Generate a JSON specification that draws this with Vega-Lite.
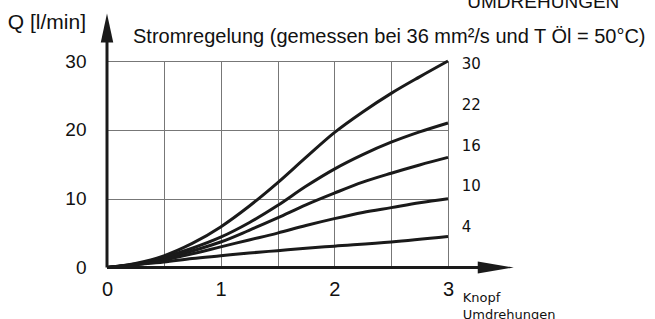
{
  "$schema": "https://vega.github.io/schema/vega-lite/v6.json",
  "width": 341,
  "height": 206.5,
  "autosize": {"type": "none"},
  "padding": {"left": 107, "top": 61, "right": 207, "bottom": 51.5},
  "background": "white",
  "config": {"view": {"stroke": null}},
  "datasets": {
    "curves": [
      {"x":0,"q":0,"n":"30"},{"x":0.25,"q":0.6,"n":"30"},{"x":0.5,"q":1.7,"n":"30"},{"x":0.75,"q":3.5,"n":"30"},{"x":1,"q":5.9,"n":"30"},{"x":1.25,"q":8.9,"n":"30"},{"x":1.5,"q":12.3,"n":"30"},{"x":1.75,"q":16.0,"n":"30"},{"x":2,"q":19.6,"n":"30"},{"x":2.25,"q":22.6,"n":"30"},{"x":2.5,"q":25.3,"n":"30"},{"x":2.75,"q":27.7,"n":"30"},{"x":3,"q":30,"n":"30"},
      {"x":0,"q":0,"n":"22"},{"x":0.25,"q":0.5,"n":"22"},{"x":0.5,"q":1.5,"n":"22"},{"x":0.75,"q":2.8,"n":"22"},{"x":1,"q":4.4,"n":"22"},{"x":1.25,"q":6.5,"n":"22"},{"x":1.5,"q":9.0,"n":"22"},{"x":1.75,"q":11.8,"n":"22"},{"x":2,"q":14.3,"n":"22"},{"x":2.25,"q":16.4,"n":"22"},{"x":2.5,"q":18.2,"n":"22"},{"x":2.75,"q":19.7,"n":"22"},{"x":3,"q":21,"n":"22"},
      {"x":0,"q":0,"n":"16"},{"x":0.25,"q":0.45,"n":"16"},{"x":0.5,"q":1.3,"n":"16"},{"x":0.75,"q":2.4,"n":"16"},{"x":1,"q":3.7,"n":"16"},{"x":1.25,"q":5.4,"n":"16"},{"x":1.5,"q":7.2,"n":"16"},{"x":1.75,"q":9.1,"n":"16"},{"x":2,"q":10.8,"n":"16"},{"x":2.25,"q":12.4,"n":"16"},{"x":2.5,"q":13.7,"n":"16"},{"x":2.75,"q":14.9,"n":"16"},{"x":3,"q":16,"n":"16"},
      {"x":0,"q":0,"n":"10"},{"x":0.25,"q":0.4,"n":"10"},{"x":0.5,"q":1.1,"n":"10"},{"x":0.75,"q":2.0,"n":"10"},{"x":1,"q":3.0,"n":"10"},{"x":1.25,"q":4.0,"n":"10"},{"x":1.5,"q":5.0,"n":"10"},{"x":1.75,"q":6.1,"n":"10"},{"x":2,"q":7.1,"n":"10"},{"x":2.25,"q":8.0,"n":"10"},{"x":2.5,"q":8.7,"n":"10"},{"x":2.75,"q":9.4,"n":"10"},{"x":3,"q":10,"n":"10"},
      {"x":0,"q":0,"n":"4"},{"x":0.25,"q":0.4,"n":"4"},{"x":0.5,"q":0.8,"n":"4"},{"x":0.75,"q":1.3,"n":"4"},{"x":1,"q":1.7,"n":"4"},{"x":1.25,"q":2.1,"n":"4"},{"x":1.5,"q":2.45,"n":"4"},{"x":1.75,"q":2.8,"n":"4"},{"x":2,"q":3.1,"n":"4"},{"x":2.5,"q":3.7,"n":"4"},{"x":3,"q":4.5,"n":"4"}
    ],
    "axislines": [
      {"x":0,"x2":3.38,"y":0,"y2":0},
      {"x":0,"x2":0,"y":0,"y2":34}
    ],
    "arrows": [
      {"x":3.42,"y":0,"dir":"right"},
      {"x":0,"y":34.8,"dir":"up"}
    ],
    "curvelabels": [
      {"x":3.12,"y":29.6,"text":"30"},
      {"x":3.12,"y":23.6,"text":"22"},
      {"x":3.12,"y":17.7,"text":"16"},
      {"x":3.12,"y":11.9,"text":"10"},
      {"x":3.12,"y":5.88,"text":"4"}
    ],
    "unitlabels": [
      {"x":3.13,"y":-4.4,"text":"Knopf"},
      {"x":3.13,"y":-6.85,"text":"Umdrehungen"}
    ],
    "titles": [
      {"x":0.229,"y":32.6,"text":"Stromregelung (gemessen bei 36 mm²/s und T Öl = 50°C)","a":"left","s":"t"},
      {"x":-0.185,"y":34.67,"text":"Q [l/min]","a":"right","s":"q"},
      {"x":3.17,"y":37.7,"text":"UMDREHUNGEN","a":"left","s":"u"}
    ]
  },
  "layer": [
    {
      "data": {"name": "curves"},
      "mark": {"type": "line", "interpolate": "monotone", "color": "#1a1a1a", "strokeWidth": 3, "clip": false},
      "encoding": {
        "x": {"field": "x", "type": "quantitative", "scale": {"domain": [0, 3], "nice": false, "zero": false},
          "axis": {"values": [0,0.5,1,1.5,2,2.5,3], "labelExpr": "datum.value % 1 === 0 ? format(datum.value, 'd') : ''", "grid": true, "gridColor": "#777", "gridWidth": 1, "ticks": false, "domain": false, "title": null, "labelFont": "Liberation Sans", "labelFontSize": 20, "labelColor": "#111", "labelPadding": 12, "labelFlush": false}},
        "y": {"field": "q", "type": "quantitative", "scale": {"domain": [0, 30], "nice": false, "zero": false},
          "axis": {"values": [0,5,10,15,20,25,30], "labelExpr": "datum.value % 10 === 0 ? datum.label : ''", "grid": true, "gridColor": "#777", "gridWidth": 1, "ticks": false, "domain": false, "title": null, "labelFont": "Liberation Sans", "labelFontSize": 19, "labelColor": "#111", "labelPadding": 21}},
        "detail": {"field": "n", "type": "nominal"}
      }
    },
    {
      "data": {"name": "axislines"},
      "mark": {"type": "rule", "color": "#1a1a1a", "strokeWidth": 3, "clip": false},
      "encoding": {
        "x": {"field": "x", "type": "quantitative"},
        "x2": {"field": "x2"},
        "y": {"field": "y", "type": "quantitative"},
        "y2": {"field": "y2"}
      }
    },
    {
      "data": {"name": "arrows"},
      "transform": [{"filter": "datum.dir === 'right'"}],
      "mark": {"type": "point", "shape": "M-1,-0.33L1,0L-1,0.33Z", "size": 1296, "filled": true, "color": "#1a1a1a", "opacity": 1, "clip": false},
      "encoding": {
        "x": {"field": "x", "type": "quantitative"},
        "y": {"field": "y", "type": "quantitative"}
      }
    },
    {
      "data": {"name": "arrows"},
      "transform": [{"filter": "datum.dir === 'up'"}],
      "mark": {"type": "point", "shape": "M-0.43,1L0,-1L0.43,1Z", "size": 841, "filled": true, "color": "#1a1a1a", "opacity": 1, "clip": false},
      "encoding": {
        "x": {"field": "x", "type": "quantitative"},
        "y": {"field": "y", "type": "quantitative"}
      }
    },
    {
      "data": {"name": "curvelabels"},
      "mark": {"type": "text", "font": "DejaVu Sans", "fontSize": 15, "align": "left", "baseline": "middle", "color": "#111", "clip": false},
      "encoding": {
        "x": {"field": "x", "type": "quantitative"},
        "y": {"field": "y", "type": "quantitative"},
        "text": {"field": "text"}
      }
    },
    {
      "data": {"name": "unitlabels"},
      "mark": {"type": "text", "font": "DejaVu Sans", "fontSize": 13, "align": "left", "baseline": "middle", "color": "#111", "clip": false},
      "encoding": {
        "x": {"field": "x", "type": "quantitative"},
        "y": {"field": "y", "type": "quantitative"},
        "text": {"field": "text"}
      }
    },
    {
      "data": {"name": "titles"},
      "transform": [{"filter": "datum.s === 't'"}],
      "mark": {"type": "text", "font": "Liberation Sans", "fontSize": 20, "align": "left", "baseline": "alphabetic", "color": "#111", "clip": false},
      "encoding": {
        "x": {"field": "x", "type": "quantitative"},
        "y": {"field": "y", "type": "quantitative"},
        "text": {"field": "text"}
      }
    },
    {
      "data": {"name": "titles"},
      "transform": [{"filter": "datum.s === 'u'"}],
      "mark": {"type": "text", "font": "Liberation Sans", "fontSize": 19, "align": "left", "baseline": "alphabetic", "color": "#111", "clip": false},
      "encoding": {
        "x": {"field": "x", "type": "quantitative"},
        "y": {"field": "y", "type": "quantitative"},
        "text": {"field": "text"}
      }
    },
    {
      "data": {"name": "titles"},
      "transform": [{"filter": "datum.s === 'q'"}],
      "mark": {"type": "text", "font": "Liberation Sans", "fontSize": 21, "align": "right", "baseline": "alphabetic", "color": "#111", "clip": false},
      "encoding": {
        "x": {"field": "x", "type": "quantitative"},
        "y": {"field": "y", "type": "quantitative"},
        "text": {"field": "text"}
      }
    }
  ]
}
